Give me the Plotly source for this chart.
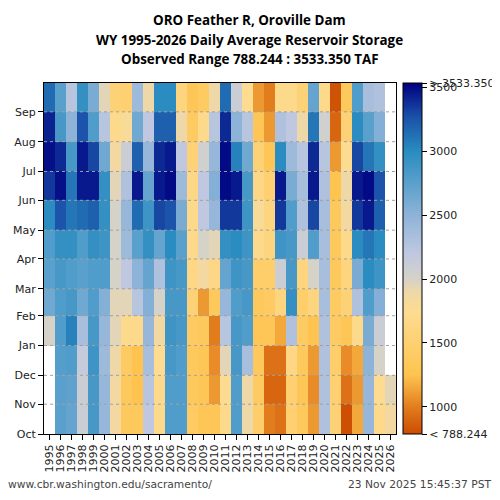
import plotly.graph_objects as go

# water years on x, day of water year on y (Oct 1 = 0)
years = list(range(1995, 2027))
month_labels = ["Oct", "Nov", "Dec", "Jan", "Feb", "Mar", "Apr", "May", "Jun", "Jul", "Aug", "Sep"]
month_start_day = [0, 31, 61, 92, 123, 151, 182, 212, 243, 273, 304, 335]
wy_days = 365

# monthly storage (TAF), Oct..Sep
wy1995 = [None, None, None, 2000, 2650, 2750, 2800, 3000, 3350, 3480, 3420, 3150]
wy1996 = [2750, 2750, 2780, 2800, 2800, 2850, 2950, 3250, 3480, 3400, 2850, 2750]
wy1997 = [2700, 2720, 2800, 3050, 2850, 2800, 2950, 3100, 3100, 2850, 2500, 2250]
wy1998 = [2100, 2100, 2150, 2350, 2650, 2750, 2800, 3150, 3450, 3450, 3250, 2950]
wy1999 = [2850, 2850, 2900, 2850, 2800, 2800, 2950, 3200, 3450, 3300, 2800, 2600]
wy2000 = [2450, 2450, 2400, 2450, 2550, 2800, 2900, 2950, 2950, 2650, 2250, 1950]
wy2001 = [1850, 1850, 1900, 1950, 1950, 2000, 2000, 2000, 1950, 1850, 1700, 1550]
wy2002 = [1350, 1350, 1400, 1700, 1950, 2200, 2400, 2450, 2300, 2100, 1800, 1500]
wy2003 = [1350, 1250, 1250, 1700, 2250, 2500, 2750, 3150, 3450, 3200, 2650, 2400]
wy2004 = [2200, 2250, 2350, 2450, 2550, 2700, 2950, 2900, 2700, 2450, 2200, 1900]
wy2005 = [1700, 1700, 1750, 1850, 2000, 2300, 2700, 3300, 3450, 3400, 3200, 3000]
wy2006 = [2800, 2800, 2850, 2900, 2850, 2900, 3000, 3250, 3500, 3450, 3200, 3000]
wy2007 = [2800, 2800, 2800, 2850, 2850, 2850, 2750, 2600, 2400, 2200, 1900, 1600]
wy2008 = [1400, 1350, 1350, 1400, 1550, 1650, 1700, 1700, 1650, 1550, 1400, 1300]
wy2009 = [1300, 1300, 1300, 1350, 1100, 1850, 2000, 2200, 2200, 2050, 1700, 1400]
wy2010 = [1300, 1100, 1050, 1000, 1350, 1650, 1950, 2450, 2550, 2450, 2250, 1900]
wy2011 = [1700, 1750, 1950, 2250, 2450, 2700, 2950, 3350, 3500, 3500, 3400, 3150]
wy2012 = [2800, 2800, 2850, 2850, 2800, 2900, 3000, 3350, 3450, 3050, 2500, 2100]
wy2013 = [1900, 1900, 2350, 2800, 2850, 2850, 2900, 2900, 2850, 2650, 2250, 1750]
wy2014 = [1450, 1400, 1350, 1300, 1350, 1450, 1700, 1800, 1650, 1550, 1300, 1100]
wy2015 = [1000, 900, 950, 1300, 1400, 1450, 1600, 1600, 1500, 1300, 1100, 1000]
wy2016 = [950, 900, 950, 1150, 1600, 2100, 2900, 3350, 3450, 3000, 2300, 1700]
wy2017 = [1500, 1500, 1650, 2300, 2950, 2850, 2850, 2800, 2600, 2400, 2200, 1700]
wy2018 = [1350, 1300, 1350, 1400, 1450, 1600, 2100, 2300, 2350, 2250, 1900, 1550]
wy2019 = [1100, 1050, 1100, 1250, 1600, 2000, 2800, 3300, 3450, 3400, 3100, 2700]
wy2020 = [2300, 2300, 2300, 2300, 2350, 2350, 2350, 2350, 2300, 2250, 2050, 1700]
wy2021 = [1550, 1500, 1450, 1400, 1400, 1350, 1350, 1350, 1250, 1100, 900, 820]
wy2022 = [800, 950, 1050, 1300, 1550, 1600, 1700, 1850, 1900, 1750, 1550, 1350]
wy2023 = [1150, 1100, 1150, 1700, 2300, 2600, 3000, 3350, 3450, 3300, 3000, 2800]
wy2024 = [2450, 2450, 2500, 2600, 2800, 3000, 3100, 3450, 3500, 3100, 2750, 2350]
wy2025 = [1700, 1750, 2000, 2100, 2550, 2900, 3000, 3200, 3250, 2950, 2550, 2300]
wy2026 = [1850, 1950, None, None, None, None, None, None, None, None, None, None]

storage = [wy1995, wy1996, wy1997, wy1998, wy1999, wy2000, wy2001, wy2002,
           wy2003, wy2004, wy2005, wy2006, wy2007, wy2008, wy2009, wy2010,
           wy2011, wy2012, wy2013, wy2014, wy2015, wy2016, wy2017, wy2018,
           wy2019, wy2020, wy2021, wy2022, wy2023, wy2024, wy2025, wy2026]

obs_min = 788.244
obs_max = 3533.350
cbar_ticks = [1000, 1500, 2000, 2500, 3000, 3500]

title_lines = ["ORO Feather R, Oroville Dam",
               "WY 1995-2026 Daily Average Reservoir Storage",
               "Observed Range 788.244 : 3533.350 TAF"]

# colour ramp: orange (low) -> tan/grey -> blue (high)
ramp = [(788.244, "#cc4c02"), (1000, "#e27d1e"), (1250, "#fec44f"),
        (1750, "#fddc92"), (1900, "#eed8a8"), (2000, "#d5d2c8"),
        (2200, "#bfc8e0"), (2500, "#8eb3d8"), (2750, "#5aa0cc"),
        (3000, "#2a8cc0"), (3270, "#1a50a8"), (3533.35, "#000080")]
colorscale = [[(v - obs_min) / (obs_max - obs_min), c] for v, c in ramp]

z = [[storage[i][m] for i in range(len(years))] for m in range(12)]
y_edges = month_start_day + [wy_days]

fig = go.Figure(go.Heatmap(
    x=years,
    y=y_edges,
    z=z,
    zmin=obs_min,
    zmax=obs_max,
    colorscale=colorscale,
    hoverongaps=False,
    hovertemplate='WY %{x}<br>%{z:.0f} TAF<extra></extra>',
    colorbar=dict(
        thickness=19, len=1, lenmode='fraction', y=0.5, yanchor='middle',
        x=1.02, xanchor='left', xpad=0, ypad=0,
        outlinecolor='black', outlinewidth=1,
        tickvals=[obs_min] + cbar_ticks + [obs_max],
        ticktext=['< %.3f' % obs_min] + [str(t) for t in cbar_ticks] + ['> %.3f' % obs_max],
        ticks='outside', ticklen=5, tickcolor='black',
        tickfont=dict(family='DejaVu Sans', size=11, color='#222'),
    ),
))

# dotted month lines drawn over the cells
for d in month_start_day[1:]:
    fig.add_shape(type='line', xref='paper', x0=0, x1=1, yref='y', y0=d, y1=d,
                  line=dict(color='#a0a0a0', width=1, dash='dot'), layer='above')

# three-line bold title, placed as annotations for tighter control of spacing
title_ann = [
    dict(text='<b>%s</b>' % t, xref='paper', yref='paper', x=0.585, y=yy,
         xanchor='center', yanchor='middle', showarrow=False,
         font=dict(family='Open Sans', size=13.4, color='black'))
    for t, yy in zip(title_lines, [1.1795, 1.1215, 1.068])
]

# page body adds an 8px offset, so the figure is 492px and margins are trimmed by 8
fig.update_layout(
    width=492, height=492,
    margin=dict(l=36, r=104, t=75, b=66, autoexpand=False),
    paper_bgcolor='white', plot_bgcolor='white',
    xaxis=dict(
        range=[1994.5, 2026.5], tickvals=years, ticktext=[str(y) for y in years],
        tickangle=-90, ticks='outside', ticklen=5, tickcolor='black', automargin=False,
        showline=True, linecolor='black', mirror=True, showgrid=False, zeroline=False,
        tickfont=dict(family='DejaVu Sans', size=11, color='#222'),
    ),
    yaxis=dict(
        range=[0, wy_days], tickvals=month_start_day, ticktext=month_labels,
        ticks='outside', ticklen=5, tickcolor='black', automargin=False,
        showline=True, linecolor='black', mirror=True, showgrid=False, zeroline=False,
        tickfont=dict(family='DejaVu Sans', size=11, color='#222'),
    ),
    annotations=title_ann + [
        dict(text='www.cbr.washington.edu/sacramento/', xref='paper', yref='paper',
             x=-0.108, y=-0.145, xanchor='left', yanchor='middle', showarrow=False,
             font=dict(family='DejaVu Sans', size=10.7, color='#444')),
        dict(text='23 Nov 2025 15:45:37 PST', xref='paper', yref='paper',
             x=1.275, y=-0.145, xanchor='right', yanchor='middle', showarrow=False,
             font=dict(family='DejaVu Sans', size=10.7, color='#444')),
    ],
)

fig.write_html("out.html")
